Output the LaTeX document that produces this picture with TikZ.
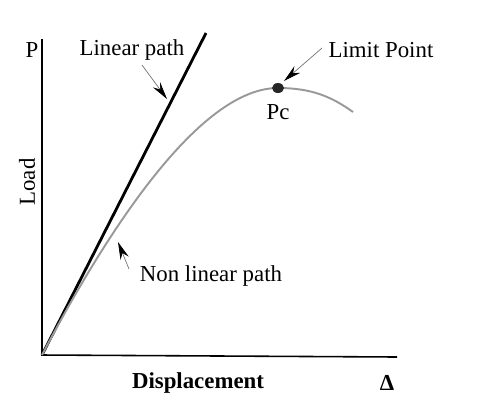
\documentclass[tikz,border=0pt]{standalone}
\usepackage{fontspec}
\setmainfont{Liberation Serif}
\usetikzlibrary{arrows.meta,positioning}

\begin{document}
\begin{tikzpicture}[
  x=0.02cm, y=0.02cm,
  font=\fontsize{13}{15}\selectfont,
  axis/.style={line width=0.9pt, draw=black},
  linpath/.style={line width=1.6pt, draw=black},
  nonlin/.style={line width=1.1pt, draw=black!40},
  pointer/.style={-{Stealth[length=10pt, width=5pt, black]}, thin, draw=black!55},
  lbl/.style={inner sep=1pt},
]
\useasboundingbox (-42,-52) rectangle (440,355);

% axes
\coordinate (o) at (0,0);
\coordinate (ytop) at (0,316);
\coordinate (xend) at (355,-2);
\draw[axis] (ytop) -- (o) -- (xend);

\node[lbl] (p)    at (-10,305)  {P};
\node[lbl, rotate=90] (load) at (-15,173) {Load};
\node[lbl, font=\fontsize{13}{15}\selectfont\bfseries] (disp) at (156,-28) {Displacement};
\node[lbl, font=\fontsize{13}{15}\selectfont\bfseries] (delta) at (345,-28) {Δ};

% the two paths
\coordinate (ltop) at (164,322);
\draw[linpath] (o) -- (ltop);

\coordinate (pc) at (236,267);
\coordinate (cend) at (311,243);
\draw[nonlin] (o) .. controls (50,95) and (150,267) .. (pc)
                 .. controls (270,267) and (290,258) .. (cend);
\fill[black!85] (pc) ellipse [x radius=0.12cm, y radius=0.1cm];
\node[lbl, below=0.28cm of pc] (pclbl) {Pc};

% labels with pointers
\node[lbl] (linlbl) at (90,305)  {Linear path};
\node[lbl] (limlbl) at (339,305) {Limit Point};
\node[lbl] (nonlbl) at (169,79)  {Non linear path};

\coordinate (lintail) at (100,290);
\coordinate (lintip)  at (125,256);
\coordinate (limtail) at (280,307);
\coordinate (limtip)  at (242,274);
\coordinate (nontail) at (87,86);
\coordinate (nontip)  at (76,113);
\draw[pointer] (lintail) -- (lintip);
\draw[pointer] (limtail) -- (limtip);
\draw[pointer] (nontail) -- (nontip);

\end{tikzpicture}
\end{document}
